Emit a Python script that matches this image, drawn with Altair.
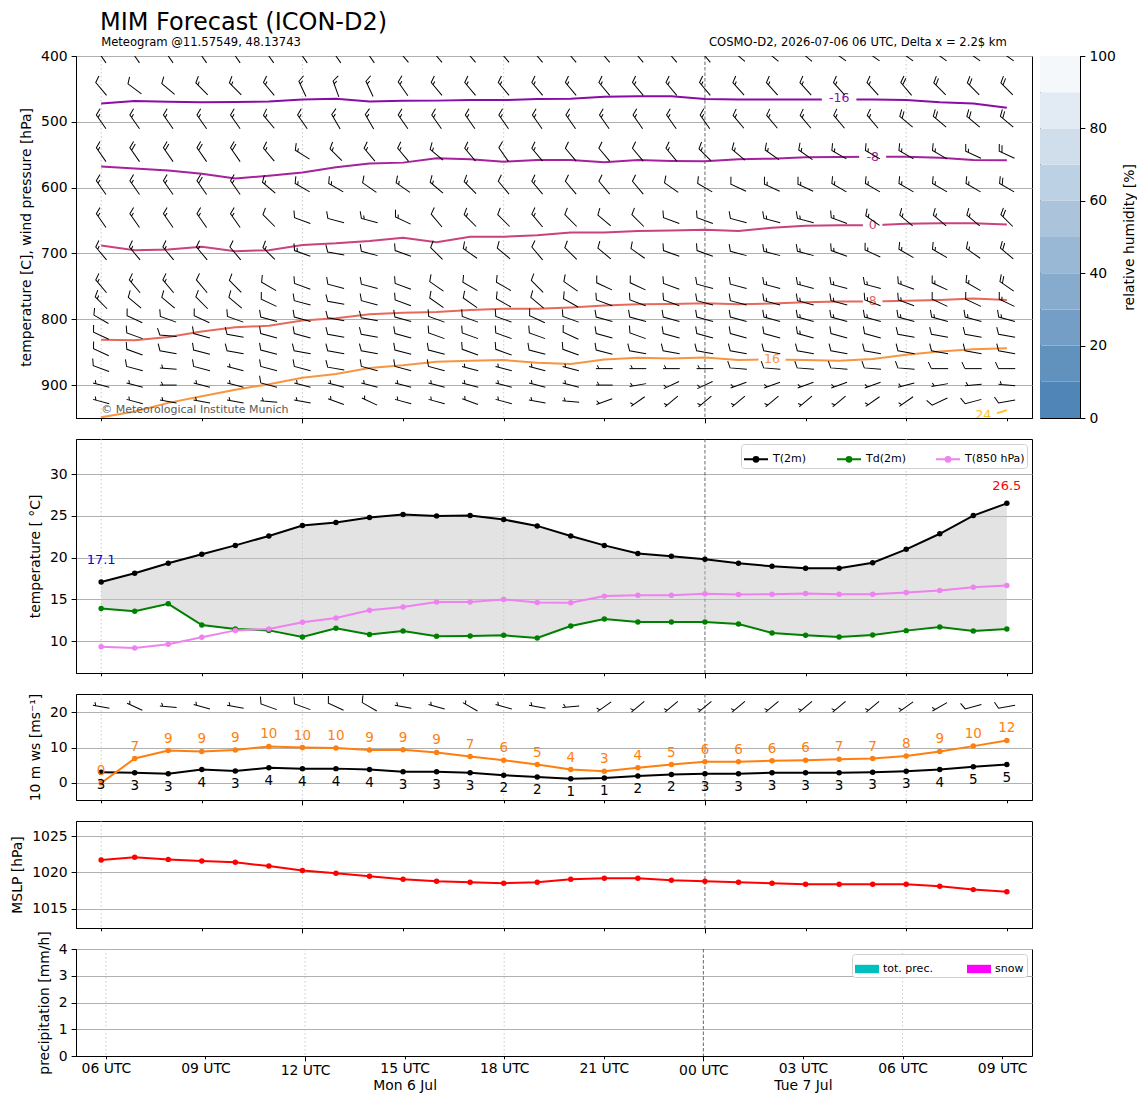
import json
import altair as alt
import pandas as pd

# ------------------------------------------------------------------ data
hours = list(range(28))  # hours after 2026-07-06 06 UTC
x_tick_values = [0, 3, 6, 9, 12, 15, 18, 21, 24, 27]
x_tick_labels = ["06 UTC", "09 UTC", "12 UTC", ["15 UTC", "Mon 6 Jul"], "18 UTC", "21 UTC",
                 "00 UTC", ["03 UTC", "Tue 7 Jul"], "06 UTC", "09 UTC"]
grid_hours_light = [0, 6, 12, 24]
grid_hours_midnight = [18]

# 2 m temperature, dew point, 850 hPa temperature [C]
t2m = [17.1, 18.13, 19.33, 20.4, 21.47, 22.6, 23.85, 24.2, 24.8, 25.16, 25.0, 25.04, 24.56, 23.8,
       22.6, 21.47, 20.5, 20.16, 19.8, 19.33, 18.97, 18.73, 18.73, 19.4, 21.0, 22.86, 25.04, 26.5]
td2m = [13.93, 13.6, 14.48, 11.94, 11.47, 11.3, 10.5, 11.55, 10.8, 11.23, 10.6, 10.63, 10.71, 10.4,
        11.83, 12.66, 12.3, 12.3, 12.3, 12.06, 10.99, 10.71, 10.5, 10.75, 11.27, 11.7, 11.23, 11.47]
t850 = [9.33, 9.2, 9.64, 10.48, 11.3, 11.47, 12.26, 12.78, 13.7, 14.09, 14.7, 14.7, 15.0, 14.64,
        14.6, 15.4, 15.5, 15.5, 15.67, 15.6, 15.63, 15.7, 15.63, 15.63, 15.83, 16.07, 16.47, 16.67]

# 10 m wind speed and gusts [m/s]
ws10 = [3.0, 2.9, 2.6, 3.8, 3.4, 4.3, 4.05, 4.05, 3.8, 3.2, 3.2, 2.9, 2.2, 1.7,
        1.2, 1.4, 2.0, 2.4, 2.6, 2.6, 2.9, 2.9, 2.9, 3.0, 3.3, 3.8, 4.6, 5.2]
gust10 = [0.0, 6.9, 9.15, 8.9, 9.3, 10.3, 10.0, 9.9, 9.3, 9.4, 8.6, 7.45, 6.4, 5.2,
          3.8, 3.3, 4.3, 5.2, 6.0, 6.0, 6.3, 6.4, 6.7, 6.9, 7.6, 8.9, 10.4, 12.0]
dir_10m = [280, 295, 275, 285, 280, 290, 290, 295, 300, 280, 285, 300, 285, 280,
           265, 235, 230, 230, 230, 230, 230, 230, 230, 230, 235, 240, 255, 260]
spd_10m = [5, 5, 5, 5, 5, 10, 10, 10, 10, 5, 5, 5, 5, 5,
           5, 5, 5, 5, 5, 5, 5, 5, 5, 5, 5, 5, 10, 10]
barb_row_10m = 21.5

# mean sea level pressure [hPa]
mslp = [1021.71, 1022.08, 1021.8, 1021.57, 1021.39, 1020.88, 1020.28, 1019.9, 1019.49, 1019.07,
        1018.8, 1018.66, 1018.52, 1018.66, 1019.07, 1019.2, 1019.2, 1018.94, 1018.8, 1018.66,
        1018.52, 1018.38, 1018.38, 1018.38, 1018.38, 1018.1, 1017.64, 1017.36]

# precipitation [mm/h]
tot_prec = [0.0, 0.0, 0.0, 0.0, 0.0, 0.0, 0.0, 0.0, 0.0, 0.0, 0.0, 0.0, 0.0, 0.0,
            0.0, 0.0, 0.0, 0.0, 0.0, 0.0, 0.0, 0.0, 0.0, 0.0, 0.0, 0.0, 0.0, 0.0]
snow = [0.0, 0.0, 0.0, 0.0, 0.0, 0.0, 0.0, 0.0, 0.0, 0.0, 0.0, 0.0, 0.0, 0.0,
        0.0, 0.0, 0.0, 0.0, 0.0, 0.0, 0.0, 0.0, 0.0, 0.0, 0.0, 0.0, 0.0, 0.0]

# isotherms: pressure [hPa] of each temperature level per hour
iso_m16 = [472, 468.5, 469.4, 470.4, 470, 469, 466, 465, 469, 468, 467.8, 467, 467, 465.3,
           465, 462, 461.3, 461, 465.3, 466, 466, 466, 466, 466, 467, 470.4, 472, 478.5]
iso_m8 = [568, 571, 574, 579, 586, 582, 577, 569, 563.5, 562, 555.5, 557, 560.5, 558,
          558, 561.5, 558, 559.5, 560, 557, 556, 554, 553.6, 553, 553, 554.6, 558, 558.5]
iso_0 = [688, 695, 694, 690, 696.5, 695, 687, 684.6, 681, 676, 683, 674.5, 674.5, 672.5,
         668, 668, 666, 665, 664, 666, 661, 658, 657, 657, 655, 654, 654, 656]
iso_8 = [831, 832, 827, 818.5, 812, 810, 802, 798.5, 792.5, 790, 789, 786, 784, 784,
         782, 779, 777, 776.7, 775.7, 777, 776, 774, 773, 773, 772, 770.6, 768.6, 770.6]
iso_16 = [949, 940, 927, 917, 907, 898.6, 889, 883, 874, 870, 864.6, 863, 862, 866,
          868, 861, 858.5, 859.5, 858, 862, 861, 862, 863, 860.5, 854, 849, 845.6, 844]
iso_24_hours = [26, 27]
iso_24 = [954, 938]
iso_levels = ["-16", "-8", "0", "8", "16", "24"]
iso_label_hour = [22, 23, 23, 23, 20, 26.3]
iso_label_p = [464.5, 553, 657, 772.5, 861, 945]

# upper-air wind barbs: direction the wind comes from [deg], speed [kt]
barb_levels = [400, 450, 500, 550, 600, 650, 700, 750, 775, 800, 825, 850, 875, 900, 925]
dir_400 = [325, 325, 325, 325, 325, 325, 325, 325, 325, 320, 320, 320, 320, 320,
           320, 320, 320, 320, 320, 310, 310, 310, 305, 305, 305, 305, 305, 305]
spd_400 = [15, 15, 15, 15, 15, 15, 15, 15, 15, 15, 15, 15, 15, 15,
           15, 15, 15, 15, 15, 15, 15, 15, 15, 15, 20, 20, 20, 20]
dir_450 = [320, 307, 310, 315, 315, 320, 335, 340, 335, 325, 320, 320, 320, 320,
           320, 320, 320, 320, 320, 318, 318, 318, 318, 318, 320, 315, 315, 315]
spd_450 = [10, 10, 10, 15, 15, 15, 15, 15, 15, 15, 15, 15, 15, 15,
           15, 15, 15, 15, 15, 15, 15, 15, 15, 15, 20, 20, 20, 20]
dir_500 = [325, 325, 325, 325, 325, 320, 325, 330, 330, 325, 325, 325, 325, 325,
           325, 325, 325, 325, 325, 320, 320, 320, 320, 320, 310, 310, 310, 310]
spd_500 = [15, 15, 15, 15, 15, 15, 15, 15, 15, 15, 15, 15, 15, 15,
           15, 15, 15, 15, 15, 15, 15, 15, 15, 15, 20, 20, 20, 20]
dir_550 = [325, 325, 325, 325, 325, 320, 302, 315, 320, 320, 310, 320, 325, 320,
           320, 320, 320, 320, 315, 310, 305, 305, 300, 300, 300, 300, 295, 295]
spd_550 = [15, 20, 20, 20, 20, 15, 15, 15, 15, 15, 15, 15, 10, 15,
           10, 10, 10, 15, 15, 15, 15, 15, 15, 15, 15, 15, 15, 20]
dir_600 = [325, 325, 325, 325, 325, 310, 300, 300, 305, 305, 310, 315, 320, 320,
           320, 320, 320, 305, 300, 295, 295, 295, 300, 300, 300, 300, 300, 300]
spd_600 = [15, 15, 15, 20, 15, 15, 15, 15, 10, 15, 15, 15, 10, 15,
           10, 10, 10, 10, 10, 10, 15, 15, 15, 15, 15, 15, 15, 20]
dir_650 = [325, 325, 325, 325, 325, 315, 290, 285, 285, 295, 320, 315, 315, 320,
           315, 310, 315, 290, 290, 285, 285, 285, 290, 305, 310, 310, 310, 315]
spd_650 = [15, 15, 15, 15, 15, 10, 10, 10, 15, 15, 10, 15, 10, 15,
           10, 10, 10, 10, 10, 10, 15, 15, 15, 15, 15, 15, 15, 20]
dir_700 = [320, 320, 320, 320, 320, 315, 290, 280, 285, 290, 315, 305, 310, 320,
           315, 310, 305, 290, 290, 285, 285, 285, 290, 295, 300, 300, 305, 310]
spd_700 = [15, 15, 15, 15, 10, 15, 15, 10, 10, 10, 10, 15, 10, 10,
           10, 10, 10, 10, 10, 10, 15, 15, 15, 15, 15, 15, 15, 20]
dir_750 = [320, 320, 320, 320, 315, 300, 290, 285, 285, 290, 305, 300, 300, 315,
           305, 295, 295, 290, 285, 285, 285, 285, 285, 285, 290, 295, 300, 305]
spd_750 = [15, 15, 15, 10, 10, 10, 10, 10, 10, 10, 10, 10, 10, 10,
           10, 10, 10, 10, 10, 10, 15, 15, 15, 15, 15, 15, 15, 20]
dir_775 = [315, 310, 310, 315, 310, 295, 285, 280, 285, 290, 305, 305, 300, 310,
           300, 290, 290, 290, 285, 285, 285, 285, 285, 290, 290, 295, 295, 295]
spd_775 = [15, 10, 10, 10, 10, 10, 10, 10, 10, 10, 10, 10, 10, 10,
           10, 10, 10, 10, 10, 10, 15, 15, 15, 15, 15, 10, 10, 15]
dir_800 = [300, 295, 290, 295, 290, 285, 285, 280, 280, 285, 290, 290, 290, 295,
           290, 285, 285, 285, 285, 285, 285, 285, 285, 285, 285, 285, 285, 285]
spd_800 = [10, 10, 10, 10, 10, 10, 10, 10, 10, 10, 10, 10, 10, 10,
           10, 10, 10, 10, 10, 10, 15, 15, 15, 15, 15, 15, 15, 15]
dir_825 = [295, 290, 275, 285, 280, 285, 285, 280, 280, 285, 290, 290, 290, 290,
           295, 285, 290, 285, 285, 285, 285, 285, 285, 285, 280, 280, 280, 280]
spd_825 = [10, 10, 10, 10, 10, 10, 10, 10, 10, 10, 10, 10, 10, 10,
           10, 10, 10, 10, 10, 10, 10, 15, 10, 10, 10, 10, 10, 10]
dir_850 = [295, 290, 280, 285, 280, 285, 280, 280, 280, 285, 285, 290, 290, 285,
           290, 285, 280, 280, 280, 280, 280, 280, 280, 280, 280, 280, 280, 280]
spd_850 = [10, 10, 10, 10, 10, 10, 10, 10, 10, 10, 10, 10, 10, 10,
           10, 10, 10, 10, 10, 10, 10, 10, 10, 10, 10, 10, 10, 10]
dir_875 = [290, 285, 275, 285, 285, 285, 285, 280, 285, 285, 285, 285, 285, 285,
           285, 270, 270, 270, 270, 275, 275, 275, 275, 275, 275, 270, 270, 270]
spd_875 = [10, 10, 5, 10, 5, 10, 10, 10, 10, 10, 10, 5, 5, 5,
           5, 5, 5, 5, 5, 10, 10, 10, 10, 10, 10, 10, 10, 10]
dir_900 = [285, 285, 270, 285, 285, 285, 285, 285, 285, 285, 285, 285, 285, 285,
           285, 270, 260, 245, 245, 250, 250, 250, 250, 250, 255, 260, 265, 275]
spd_900 = [5, 5, 5, 5, 5, 10, 5, 5, 5, 5, 5, 5, 5, 5,
           5, 5, 5, 5, 5, 5, 5, 5, 5, 5, 5, 5, 5, 5]
dir_925 = [285, 285, 280, 280, 280, 275, 280, 290, 295, 285, 285, 290, 285, 280,
           275, 250, 235, 230, 230, 230, 230, 230, 230, 235, 235, 245, 255, 260]
spd_925 = [5, 5, 5, 5, 5, 5, 5, 5, 5, 5, 5, 5, 5, 5,
           5, 5, 5, 5, 5, 5, 5, 5, 5, 5, 5, 10, 10, 10]

# relative humidity colour bar classes [%]
rh_lo = [0, 10, 20, 30, 40, 50, 60, 70, 80, 90]
rh_hi = [10, 20, 30, 40, 50, 60, 70, 80, 90, 100]

# ------------------------------------------------------------------ styles
FONT = "DejaVu Sans"
PW = 956
X_DOMAIN = [-0.75, 27.75]
MAJOR = "datum.value == 6 || datum.value == 18"
LABEL_EXPR = json.dumps(x_tick_labels) + "[round(datum.value / 3)]"
iso_colors = ["#8a0ca6", "#a4229b", "#c9427c", "#e6695c", "#f89540", "#fdc12b"]
rh_colors = ["#4f85b7", "#6192be", "#749ec6", "#86abcd", "#99b8d5",
             "#abc4dc", "#bdd1e4", "#d0deeb", "#e2eaf3", "#f4f8fb"]
BARB_PATHS = [
    "M0,0.7L0,-0.7M0,-0.45L0.28,-0.58",
    "M0,0.7L0,-0.7L0.55,-0.95",
    "M0,0.7L0,-0.7L0.55,-0.95M0,-0.45L0.28,-0.58",
    "M0,0.7L0,-0.7L0.55,-0.95M0,-0.45L0.55,-0.7",
    "M0,0.7L0,-0.7L0.55,-0.95M0,-0.45L0.55,-0.7M0,-0.2L0.28,-0.33",
]
BOX_PATH = "M-1,-0.3L1,-0.3L1,0.3L-1,0.3Z"
LEG_LINE = "M-1,0L1,0M0.2,0A0.2,0.2,0,1,1,-0.2,0A0.2,0.2,0,1,1,0.2,0"
LEG_RECT = "M-1,-0.35L1,-0.35L1,0.35L-1,0.35Z"


def xenc(bottom=False):
    tick = {"condition": {"test": MAJOR, "value": 4.9}, "value": 2.8}
    if bottom:
        ax = alt.Axis(values=x_tick_values, grid=False, title=None, tickSize=tick,
                      labelPadding=3, labelExpr=LABEL_EXPR, labelLineHeight=17,
                      labelOverlap=False, labelFlush=False, labelBaseline="top")
    else:
        ax = alt.Axis(values=x_tick_values, grid=False, title=None, tickSize=tick, labels=False)
    return alt.X("h:Q", scale=alt.Scale(domain=X_DOMAIN, nice=False, zero=False), axis=ax)


def vgrid(bottom=False):
    light = alt.Chart(pd.DataFrame({"h": grid_hours_light})).mark_rule(
        color="#bdbdbd", strokeWidth=0.8, strokeDash=[1.5, 2.5]).encode(x=xenc(bottom))
    mid = alt.Chart(pd.DataFrame({"h": grid_hours_midnight})).mark_rule(
        color="#444444", strokeWidth=0.8, strokeDash=[3.5, 2]).encode(x=xenc(bottom))
    return [light, mid]


barb_shape = alt.Shape("spd:N", scale=alt.Scale(domain=[5, 10, 15, 20, 25], range=BARB_PATHS), legend=None)
barb_angle = alt.Angle("dir:Q", scale=None)

# ------------------------------------------------------------------ top panel
def ytop(field="p"):
    return alt.Y(f"{field}:Q", scale=alt.Scale(domain=[400, 950], reverse=True, nice=False, zero=False),
                 axis=alt.Axis(values=[400, 500, 600, 700, 800, 900],
                               title="temperature [C], wind pressure [hPa]", grid=True))

barb_rows = [
    (400, dir_400, spd_400), (450, dir_450, spd_450), (500, dir_500, spd_500),
    (550, dir_550, spd_550), (600, dir_600, spd_600), (650, dir_650, spd_650),
    (700, dir_700, spd_700), (750, dir_750, spd_750), (775, dir_775, spd_775),
    (800, dir_800, spd_800), (825, dir_825, spd_825), (850, dir_850, spd_850),
    (875, dir_875, spd_875), (900, dir_900, spd_900), (925, dir_925, spd_925),
]
barb_df = pd.concat([pd.DataFrame({"h": hours, "p": lev, "dir": d, "spd": s}) for lev, d, s in barb_rows])

iso_series = [iso_m16, iso_m8, iso_0, iso_8, iso_16]
iso_df = pd.concat([pd.DataFrame({"h": hours, "p": v, "level": lv}) for lv, v in zip(iso_levels[:5], iso_series)]
                   + [pd.DataFrame({"h": iso_24_hours, "p": iso_24, "level": "24"})])
iso_lab = pd.DataFrame({"h": iso_label_hour, "p": iso_label_p, "level": iso_levels, "txt": iso_levels})
iso_lab["bs"] = [(7.5 * len(t) + 12) ** 2 for t in iso_levels]
iso_color = alt.Color("level:N", scale=alt.Scale(domain=iso_levels, range=iso_colors), legend=None)

top_layers = vgrid() + [
    alt.Chart(iso_df).mark_line(strokeWidth=2, clip=True).encode(x=xenc(), y=ytop(), color=iso_color),
    alt.Chart(iso_lab).mark_point(shape=BOX_PATH, filled=True, fill="white", opacity=1, strokeWidth=0, clip=True)
       .encode(x=xenc(), y=ytop(), size=alt.Size("bs:Q", scale=None)),
    alt.Chart(iso_lab).mark_text(fontSize=12.5, baseline="middle", clip=True)
       .encode(x=xenc(), y=ytop(), text="txt:N", color=iso_color),
    alt.Chart(barb_df).mark_point(filled=False, color="black", strokeWidth=1, opacity=1, size=576, clip=True)
       .encode(x=xenc(), y=ytop(), shape=barb_shape, angle=barb_angle),
    alt.Chart(pd.DataFrame({"h": [0], "p": [938], "txt": ["© Meteorological Institute Munich"]}))
       .mark_text(align="left", baseline="middle", fontSize=11, color="#5a5a5a")
       .encode(x=xenc(), y=ytop(), text="txt:N"),
    alt.Chart(pd.DataFrame({"h": [0], "txt": ["Meteogram @11.57549, 48.13743"]}))
       .mark_text(align="left", baseline="alphabetic", fontSize=11.6, color="black")
       .encode(x=xenc(), y=alt.value(-10), text="txt:N"),
    alt.Chart(pd.DataFrame({"h": [27], "txt": ["COSMO-D2, 2026-07-06 06 UTC, Delta x = 2.2$ km"]}))
       .mark_text(align="right", baseline="alphabetic", fontSize=11.6, color="black")
       .encode(x=xenc(), y=alt.value(-10), text="txt:N"),
]
top = alt.layer(*top_layers).properties(
    width=PW, height=362,
    title=alt.Title("MIM Forecast (ICON-D2)", anchor="start", frame="group", dx=24, fontSize=24,
                    fontWeight="normal", font=FONT, color="black", offset=2),
)

cbar = alt.Chart(pd.DataFrame({"lo": rh_lo, "hi": rh_hi})).mark_rect().encode(
    y=alt.Y("lo:Q", scale=alt.Scale(domain=[0, 100], nice=False, zero=False),
            axis=alt.Axis(orient="right", values=[0, 20, 40, 60, 80, 100], grid=False,
                          title="relative humidity [%]", titleAngle=270, titleBaseline="top")),
    y2="hi:Q",
    color=alt.Color("lo:O", scale=alt.Scale(domain=rh_lo, range=rh_colors), legend=None),
    x=alt.value(0), x2=alt.value(40),
).properties(width=40, height=362)

# ------------------------------------------------------------------ temperature panel
def ytemp(field):
    return alt.Y(f"{field}:Q", scale=alt.Scale(domain=[6.2, 34.2], nice=False, zero=False),
                 axis=alt.Axis(values=[10, 15, 20, 25, 30], title="temperature [ °C]", grid=True))

series_names = ["T(2m)", "Td(2m)", "T(850 hPa)"]
temp_wide = pd.DataFrame({"h": hours, "t2m": t2m, "td2m": td2m})
temp_long = pd.concat([pd.DataFrame({"h": hours, "T": v, "series": n})
                       for n, v in zip(series_names, [t2m, td2m, t850])])
i_min = t2m.index(min(t2m))
i_max = t2m.index(max(t2m))
tmin_df = pd.DataFrame({"h": [hours[i_min]], "T": [t2m[i_min]], "txt": [f"{t2m[i_min]:.1f}"]})
tmax_df = pd.DataFrame({"h": [hours[i_max]], "T": [t2m[i_max]], "txt": [f"{t2m[i_max]:.1f}"]})

temp = alt.layer(
    *vgrid(),
    alt.Chart(temp_wide).mark_area(color="#c4c4c4", opacity=0.48).encode(x=xenc(), y=ytemp("t2m"), y2="td2m:Q"),
    alt.Chart(temp_long).mark_line(strokeWidth=2, point=alt.OverlayMarkDef(filled=True, size=30, opacity=1)).encode(
        x=xenc(), y=ytemp("T"),
        color=alt.Color("series:N", scale=alt.Scale(domain=series_names, range=["black", "green", "violet"]),
                        legend=alt.Legend(title=None, orient="top-right", direction="horizontal", offset=5,
                                          symbolType=LEG_LINE, symbolSize=576, symbolStrokeWidth=2,
                                          labelFontSize=11, labelFont=FONT, columnPadding=26, padding=2,
                                          strokeColor="#d0d0d0", fillColor="white", cornerRadius=3,
                                          labelLimit=200)),
        order=alt.Order("h:Q"),
    ),
    alt.Chart(tmin_df).mark_text(color="blue", fontSize=13, dy=-22).encode(x=xenc(), y=ytemp("T"), text="txt:N"),
    alt.Chart(tmax_df).mark_text(color="red", fontSize=13, dy=-17).encode(x=xenc(), y=ytemp("T"), text="txt:N"),
).properties(width=PW, height=234)

# ------------------------------------------------------------------ wind panel
def ywind(field):
    return alt.Y(f"{field}:Q", scale=alt.Scale(domain=[-4.8, 25.1], nice=False, zero=False),
                 axis=alt.Axis(values=[0, 10, 20], title="10 m ws [ms⁻¹]", grid=True))

wind_df = pd.DataFrame({"h": hours, "ws": ws10, "gust": gust10})
barb10_df = pd.DataFrame({"h": hours, "v": barb_row_10m, "dir": dir_10m, "spd": spd_10m})
wind = alt.layer(
    *vgrid(),
    alt.Chart(wind_df).mark_line(color="black", strokeWidth=2, point=alt.OverlayMarkDef(filled=True, size=30, color="black"))
       .encode(x=xenc(), y=ywind("ws")),
    alt.Chart(wind_df).mark_line(color="#ff7f0e", strokeWidth=2, point=alt.OverlayMarkDef(filled=True, size=30, color="#ff7f0e"))
       .encode(x=xenc(), y=ywind("gust")),
    alt.Chart(wind_df).mark_text(color="black", fontSize=13.5, dy=13).encode(
        x=xenc(), y=ywind("ws"), text=alt.Text("ws:Q", format=".0f")),
    alt.Chart(wind_df).mark_text(color="#ff7f0e", fontSize=13.5, dy=-12).encode(
        x=xenc(), y=ywind("gust"), text=alt.Text("gust:Q", format=".0f")),
    alt.Chart(barb10_df).mark_point(filled=False, color="black", strokeWidth=1, opacity=1, size=576, clip=True)
       .encode(x=xenc(), y=ywind("v"), shape=barb_shape, angle=barb_angle),
).properties(width=PW, height=106)

# ------------------------------------------------------------------ MSLP panel
mslp_df = pd.DataFrame({"h": hours, "mslp": mslp})
press = alt.layer(
    *vgrid(),
    alt.Chart(mslp_df).mark_line(color="red", strokeWidth=2, point=alt.OverlayMarkDef(filled=True, size=30, color="red"))
       .encode(x=xenc(), y=alt.Y("mslp:Q", scale=alt.Scale(domain=[1012.36, 1027.08], nice=False, zero=False),
                                 axis=alt.Axis(values=[1015, 1020, 1025], format="d", title="MSLP [hPa]", grid=True))),
).properties(width=PW, height=107)

# ------------------------------------------------------------------ precipitation panel
prec_df = pd.concat([pd.DataFrame({"h": hours, "val": tot_prec, "kind": "tot. prec."}),
                     pd.DataFrame({"h": hours, "val": snow, "kind": "snow"})])
prec = alt.layer(
    *vgrid(bottom=True),
    alt.Chart(prec_df).mark_bar(size=20).encode(
        x=xenc(bottom=True),
        y=alt.Y("val:Q", stack=None, scale=alt.Scale(domain=[0, 4], nice=False, zero=False),
                axis=alt.Axis(values=[0, 1, 2, 3, 4], title="precipitation [mm/h]", grid=True, minExtent=18)),
        color=alt.Color("kind:N", scale=alt.Scale(domain=["tot. prec.", "snow"], range=["#00bfbf", "#ff00ff"]),
                        legend=alt.Legend(title=None, orient="top-right", direction="horizontal", offset=5,
                                          symbolType=LEG_RECT, symbolSize=576, symbolStrokeWidth=0,
                                          labelFontSize=11, labelFont=FONT, columnPadding=34, padding=3,
                                          strokeColor="#d0d0d0", fillColor="white", cornerRadius=3)),
    ),
).properties(width=PW, height=107)

# ------------------------------------------------------------------ assemble
panels = alt.vconcat(top, temp, wind, press, prec, spacing=21, bounds="flush").resolve_scale(
    color="independent", shape="independent")
chart = alt.hconcat(panels, cbar, spacing=6).resolve_scale(
    color="independent", shape="independent"
).properties(
    padding={"left": 2, "top": 2, "right": 0, "bottom": 2}
).configure(font=FONT).configure_axis(
    labelFontSize=13.9, titleFontSize=13.9, titleFontWeight="normal", labelColor="black",
    titleColor="black", tickColor="black", domainColor="black", domainWidth=1, tickWidth=1,
    gridColor="#b0b0b0", gridWidth=1, labelFont=FONT, titleFont=FONT, titlePadding=7,
    labelPadding=4, tickSize=4.9,
).configure_view(stroke="black", strokeWidth=1).configure_title(font=FONT)

chart.save("out.html", embed_options={"renderer": "svg", "actions": False})
